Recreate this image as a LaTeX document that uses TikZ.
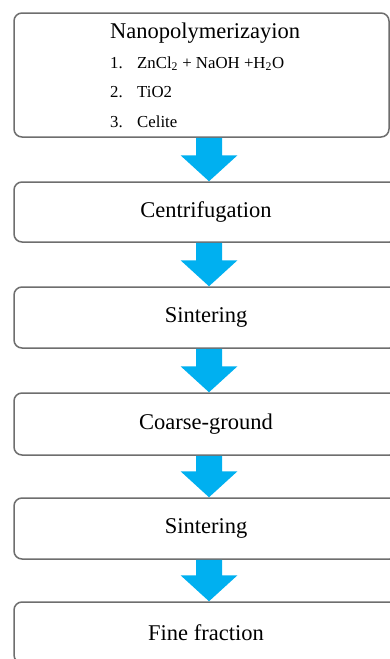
\documentclass[tikz,border=0pt]{standalone}
\usepackage{fontspec}
\setmainfont{Liberation Serif}
\usetikzlibrary{calc}
\definecolor{boxline}{RGB}{110,110,110}
\definecolor{arrowblue}{RGB}{0,176,240}
\tikzset{
  box/.style={draw=boxline, line width=1.5pt, rounded corners=8pt, fill=white, inner sep=0pt},
  bigtext/.style={font=\fontsize{22.5}{27}\selectfont, inner sep=0pt},
  listtext/.style={font=\fontsize{16.8}{20}\selectfont, inner sep=0pt, anchor=base west},
  arrowfill/.style={fill=arrowblue},
}
\newcommand\flowarrow[2]{%
  \fill[arrowfill] let \p1=(#1.south), \p2=(#2.north) in
    (196pt,\y1) -- (222pt,\y1) -- (222pt,\y2+26pt) -- (237.5pt,\y2+26pt)
    -- (209pt,\y2) -- (180.5pt,\y2+26pt) -- (196pt,\y2+26pt) -- cycle;
}
\begin{document}
\begin{tikzpicture}[x=1pt,y=-1pt]
\clip (0,0) rectangle (390,659);
\fill[white] (0,0) rectangle (390,659);
% boxes
\node[box, minimum width=375pt, minimum height=124pt] (b1) at (201.5,75) {};
\node[box, minimum width=384pt, minimum height=60pt] (b2) at (206,212) {};
\node[box, minimum width=384pt, minimum height=61pt] (b3) at (206,317.5) {};
\node[box, minimum width=384pt, minimum height=62pt] (b4) at (206,424) {};
\node[box, minimum width=384pt, minimum height=61pt] (b5) at (206,528.5) {};
\node[box, minimum width=384pt, minimum height=61pt] (b6) at (206,632.5) {};
% texts
\node[bigtext, anchor=base west] (t1) at (110,38.3) {Nanopolymerizayion};
\node[listtext] (n1) at (110,68) {1.};
\node[listtext] (l1) at (137,68) {ZnCl\textsubscript{2} + NaOH +H\textsubscript{2}O};
\node[listtext] (n2) at (110,97.5) {2.};
\node[listtext] (l2) at (137,97.5) {TiO2};
\node[listtext] (n3) at (110,127) {3.};
\node[listtext] (l3) at (137,127) {Celite};
\node[bigtext] (t2) at (b2.center) {Centrifugation};
\node[bigtext] (t3) at (b3.center) {Sintering};
\node[bigtext] (t4) at (b4.center) {Coarse-ground};
\node[bigtext] (t5) at (b5.center) {Sintering};
\node[bigtext] (t6) at (b6.center) {Fine fraction};
% arrows
\flowarrow{b1}{b2}
\flowarrow{b2}{b3}
\flowarrow{b3}{b4}
\flowarrow{b4}{b5}
\flowarrow{b5}{b6}
\end{tikzpicture}
\end{document}
